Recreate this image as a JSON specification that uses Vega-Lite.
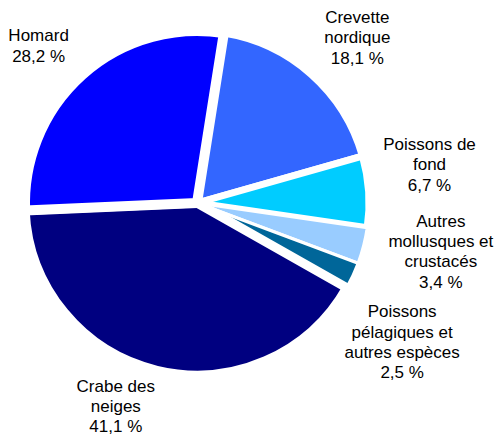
{
  "$schema": "https://vega.github.io/schema/vega-lite/v6.json",
  "width": 394,
  "height": 406,
  "autosize": {"type": "none"},
  "padding": {"left": 0, "top": 0, "right": 104, "bottom": 29},
  "background": "white",
  "config": {
    "view": {"stroke": null},
    "text": {"radius": 228, "lineBreak": "\n", "font": "Liberation Sans", "fontSize": 17, "lineHeight": 20.3, "color": "#000000", "align": "center", "baseline": "middle"}
  },
  "data": {
    "values": [
      {"espece": "Crevette nordique", "label": "Crevette\nnordique\n18,1 %", "part": 18.1, "ordre": 1},
      {"espece": "Poissons de fond", "label": "Poissons de\nfond\n6,7 %", "part": 6.7, "ordre": 2},
      {"espece": "Autres mollusques et crustacés", "label": "Autres\nmollusques et\ncrustacés\n3,4 %", "part": 3.4, "ordre": 3},
      {"espece": "Poissons pélagiques et autres espèces", "label": "Poissons\npélagiques et\nautres espèces\n2,5 %", "part": 2.5, "ordre": 4},
      {"espece": "Crabe des neiges", "label": "Crabe des\nneiges\n41,1 %", "part": 41.1, "ordre": 5},
      {"espece": "Homard", "label": "Homard\n28,2 %", "part": 28.2, "ordre": 6}
    ]
  },
  "encoding": {
    "theta": {"field": "part", "type": "quantitative", "stack": true, "scale": {"range": [0.157, 6.440]}},
    "order": {"field": "ordre", "type": "quantitative"}
  },
  "layer": [
    {
      "mark": {"type": "arc", "outerRadius": 172, "stroke": "#ffffff", "strokeJoin": "round"},
      "encoding": {
        "color": {
          "field": "espece",
          "type": "nominal",
          "legend": null,
          "scale": {
            "domain": ["Crevette nordique", "Poissons de fond", "Autres mollusques et crustacés", "Poissons pélagiques et autres espèces", "Crabe des neiges", "Homard"],
            "range": ["#3366FF", "#00CCFF", "#99CCFF", "#006699", "#000080", "#0000FF"]
          }
        },
        "strokeWidth": {
          "condition": [
            {"test": "datum.ordre == 3 || datum.ordre == 4", "value": 3},
            {"test": "datum.ordre == 5", "value": 9},
            {"test": "datum.ordre == 6", "value": 10}
          ],
          "value": 7
        }
      }
    },
    {"mark": {"type": "text", "dx": 9, "dy": -14.5}, "encoding": {"text": {"condition": {"test": "datum.ordre == 1", "field": "label"}, "value": ""}}},
    {"mark": {"type": "text", "dx": 5, "dy": -43}, "encoding": {"text": {"condition": {"test": "datum.ordre == 2", "field": "label"}, "value": ""}}},
    {"mark": {"type": "text", "dx": 23, "dy": -38}, "encoding": {"text": {"condition": {"test": "datum.ordre == 3", "field": "label"}, "value": ""}}},
    {"mark": {"type": "text", "dx": -1.5, "dy": 13}, "encoding": {"text": {"condition": {"test": "datum.ordre == 4", "field": "label"}, "value": ""}}},
    {"mark": {"type": "text", "dx": -28, "dy": -38}, "encoding": {"text": {"condition": {"test": "datum.ordre == 5", "field": "label"}, "value": ""}}},
    {"mark": {"type": "text", "dx": -6.5, "dy": 3.5}, "encoding": {"text": {"condition": {"test": "datum.ordre == 6", "field": "label"}, "value": ""}}}
  ]
}
